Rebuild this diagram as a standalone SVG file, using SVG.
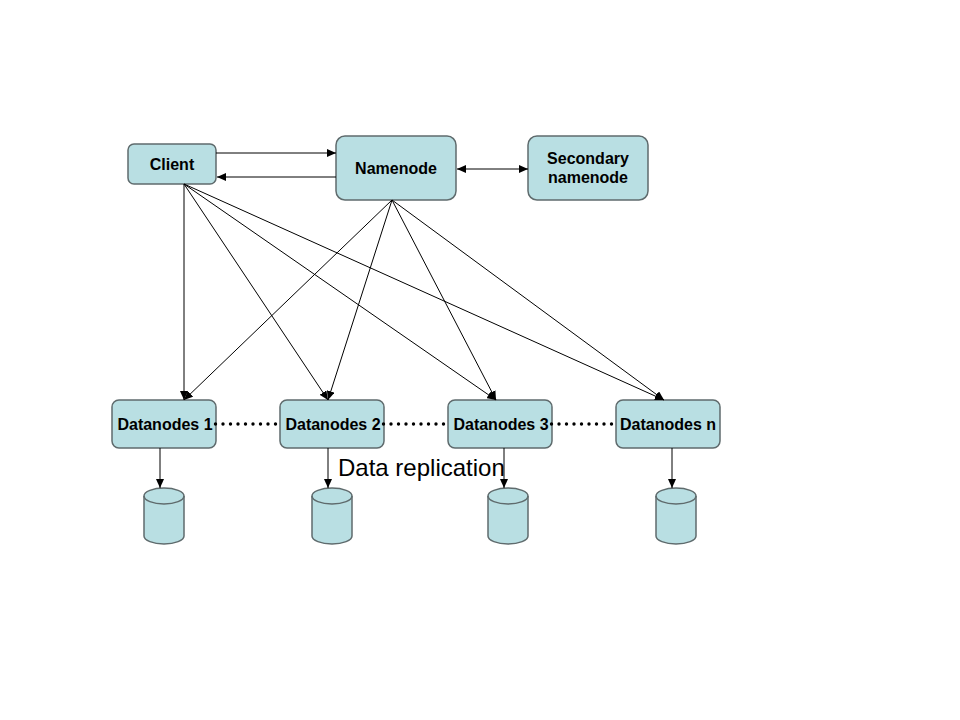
<svg xmlns="http://www.w3.org/2000/svg" width="960" height="720" viewBox="0 0 960 720">
<style>
.n{fill:#b9dfe3;stroke:#5f6b6d;stroke-width:1.5}
.t{font-family:"Liberation Sans",Arial,sans-serif;font-size:16px;font-weight:bold;fill:#000;text-anchor:middle;stroke:none}
.c{stroke:#000;stroke-width:1;fill:none}
.a{marker-end:url(#ah)}
.d{stroke:#000;stroke-width:3.4;stroke-linecap:round;stroke-dasharray:0 7.5;fill:none}
</style>
<defs>
<marker id="ah" markerUnits="userSpaceOnUse" markerWidth="10" markerHeight="8" refX="9" refY="4" orient="auto"><path d="M0 0L9 4L0 8z" fill="#000"/></marker>
<marker id="as" markerUnits="userSpaceOnUse" markerWidth="10" markerHeight="8" refX="0" refY="4" orient="auto"><path d="M9 0L0 4L9 8z" fill="#000"/></marker>
<g id="cyl"><path class="n" d="M0 8A20 8 0 0 1 40 8V48A20 8 0 0 1 0 48Z"/><path class="n" d="M0 8A20 8 0 0 0 40 8" style="fill:none"/></g>
</defs>
<rect width="960" height="720" fill="#fff"/>
<g id="client"><rect class="n" x="128" y="144" width="88" height="40" rx="6"/><text class="t" x="172" y="170">Client</text></g>
<g id="namenode"><rect class="n" x="336" y="136" width="120" height="64" rx="9"/><text class="t" x="396" y="174">Namenode</text></g>
<g id="secondary"><rect class="n" x="528" y="136" width="120" height="64" rx="9"/><text class="t" x="588" y="164">Secondary</text><text class="t" x="588" y="183">namenode</text></g>
<g id="dn1"><rect class="n" x="112" y="400" width="104" height="48" rx="7"/><text class="t" x="165" y="430">Datanodes 1</text></g>
<g id="dn2"><rect class="n" x="280" y="400" width="104" height="48" rx="7"/><text class="t" x="333" y="430">Datanodes 2</text></g>
<g id="dn3"><rect class="n" x="448" y="400" width="104" height="48" rx="7"/><text class="t" x="501" y="430">Datanodes 3</text></g>
<g id="dnn"><rect class="n" x="616" y="400" width="104" height="48" rx="7"/><text class="t" x="668" y="430">Datanodes n</text></g>
<g id="db1"><use href="#cyl" x="144" y="488"/></g>
<g id="db2"><use href="#cyl" x="312" y="488"/></g>
<g id="db3"><use href="#cyl" x="488" y="488"/></g>
<g id="dbn"><use href="#cyl" x="656" y="488"/></g>
<g id="connectors">
<path class="c a" d="M216 153H336"/>
<path class="c a" d="M336 177H217"/>
<path class="c a" d="M457 169H528" marker-start="url(#as)"/>
<path class="c a" d="M184 184V400"/>
<path class="c a" d="M184 184L328 400"/>
<path class="c a" d="M184 184L496 400"/>
<path class="c a" d="M184 184L664 400"/>
<path class="c a" d="M392 200L184 400"/>
<path class="c a" d="M392 200L328 400"/>
<path class="c a" d="M392 200L496 400"/>
<path class="c a" d="M392 200L664 400"/>
<path class="c a" d="M160 448V488"/>
<path class="c a" d="M328 448V488"/>
<path class="c a" d="M504 448V488"/>
<path class="c a" d="M672 448V488"/>
<path class="d" d="M215.5 424H276"/>
<path class="d" d="M383.5 424H444"/>
<path class="d" d="M551.5 424H612"/>
</g>
<text x="338" y="476" font-family="'Liberation Sans',Arial,sans-serif" font-size="24" fill="#000">Data replication</text>
</svg>
